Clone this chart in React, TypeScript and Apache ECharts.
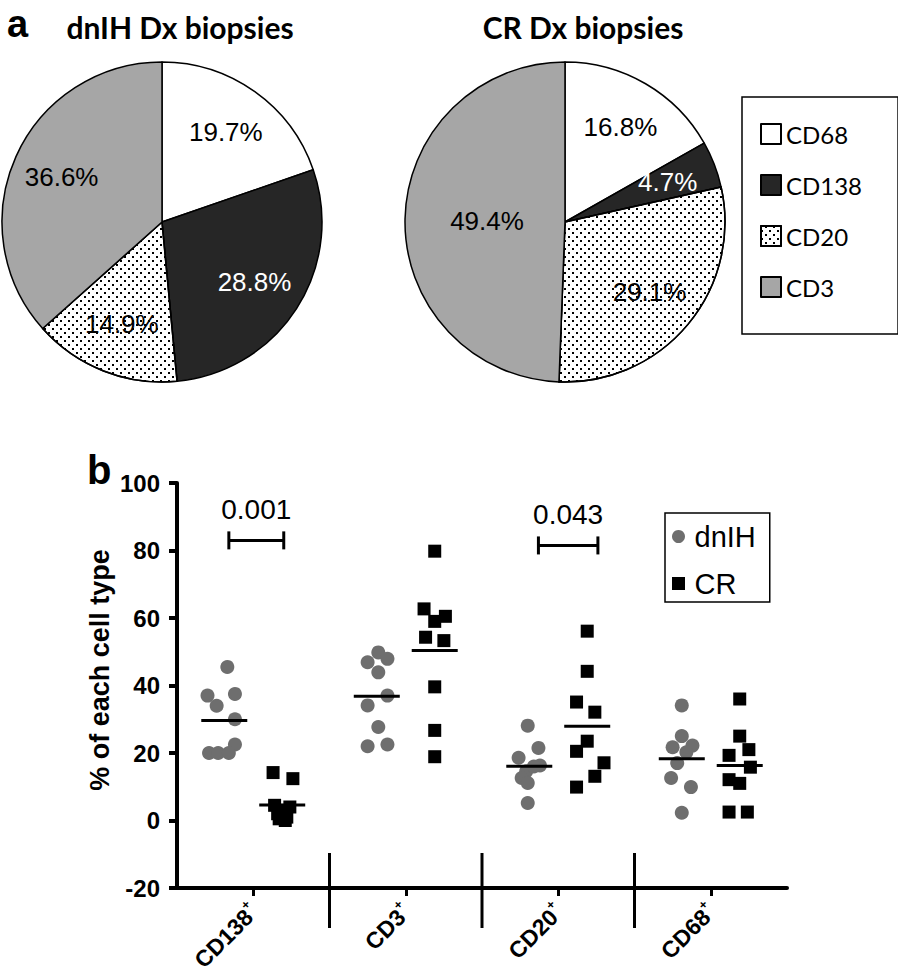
import React, { useEffect, useRef } from 'react';
import * as echarts from 'echarts';

// ---------- Panel a: pie charts ----------
const pieNames = ['CD68', 'CD138', 'CD20', 'CD3'];
const dnihPie = [19.7, 28.8, 14.9, 36.6];
const crPie = [16.8, 4.7, 29.1, 49.4];

// ---------- Panel b: scatter ----------
const cellTypes = ['CD138', 'CD3', 'CD20', 'CD68'];
const groups = ['dnIH', 'CR'];

const dnihCD138 = [45.5, 37, 37.5, 34, 30, 22.5, 20, 20, 20];
const dnihCD3 = [49.8, 46.9, 47.9, 43.9, 37, 34.1, 27.7, 22, 22.5];
const dnihCD20 = [28.1, 21.5, 18.6, 16.3, 14.6, 16, 12.6, 11.1, 5.2];
const dnihCD68 = [34.1, 25, 22.2, 21.7, 20.2, 17, 12.6, 9.9, 2.3];

const crCD138 = [14.2, 12.4, 4.5, 4, 3, 2, 1, 0.5, 0];
const crCD3 = [79.8, 62.7, 60.5, 59, 54.3, 53.3, 39.6, 26.7, 18.9];
const crCD20 = [56.1, 44.2, 35.1, 32.1, 23.5, 20.5, 17.1, 13.1, 9.9];
const crCD68 = [36, 25, 21, 19.3, 15.8, 12.1, 11, 2.5, 2.5];

// horizontal scatter (jitter) of each point, in category widths
const dnihJitter = [
  [0.02, -0.11, 0.07, -0.05, 0.07, 0.07, -0.1, -0.04, 0.03],
  [0.01, -0.06, 0.07, 0.01, 0.07, -0.06, 0.01, -0.06, 0.07],
  [-0.01, 0.06, -0.07, 0.07, -0.02, 0.03, -0.05, -0.01, -0.01],
  [0, 0, 0.07, -0.06, 0.03, -0.03, -0.07, 0.06, 0],
];
const crJitter = [
  [-0.06, 0.07, -0.05, 0.05, 0, -0.03, 0.03, -0.02, 0.02],
  [0, -0.07, 0.07, 0, -0.06, 0.06, 0, 0, 0],
  [0, 0, -0.07, 0.05, 0, -0.07, 0.11, 0.05, -0.07],
  [0, 0, 0.06, -0.07, 0.07, -0.07, 0, -0.07, 0.05],
];

const dnihMeans = [29.6, 36.8, 16.1, 18.3];
const crMeans = [4.6, 50.4, 27.9, 16.3];

const sigLabels = ['0.001', '0.043'];
const sigFrom = [0.34, 2.37];
const sigTo = [0.7, 2.76];
const sigLevel = [83, 81.5];

const separators = [1, 2, 3];

// ---------- styles ----------
const ARIAL = '"Liberation Sans", Arial, Helvetica, sans-serif';
const CAL = 'Lato, "Open Sans", sans-serif';
const GROUP_OFFSET = [-0.19, 0.19];

const dotDecal = {
  symbol: 'rect',
  symbolSize: 1,
  color: '#000',
  dashArrayX: [[1.6, 5.4], [0, 3.5, 1.6, 1.9]],
  dashArrayY: [1.6, 1.9],
};
const pieStyles = [
  { color: '#ffffff' },
  { color: '#262626' },
  { color: '#ffffff', decal: dotDecal },
  { color: '#a6a6a6' },
];
const labelColors = ['#000', '#fff', '#000', '#000'];

const catRich = {
  n: { fontSize: 23, fontWeight: 'bold', fontFamily: ARIAL, fill: '#000', color: '#000', lineHeight: 30 },
  s: { fontSize: 13, fontWeight: 'bold', fontFamily: ARIAL, fill: '#000', color: '#000', verticalAlign: 'top' },
};

function buildOption() {
  const dnihVals = [dnihCD138, dnihCD3, dnihCD20, dnihCD68];
  const crVals = [crCD138, crCD3, crCD20, crCD68];

  const pieSeries = (name: string, vals: number[], cx: number) => ({
    type: 'pie',
    name,
    center: [cx, 222],
    radius: 160,
    startAngle: 90,
    clockwise: true,
    silent: true,
    label: { show: false },
    labelLine: { show: false },
    itemStyle: { borderColor: '#000', borderWidth: 1.5 },
    data: pieNames.map((n, i) => ({ name: n, value: vals[i], itemStyle: pieStyles[i] })),
  });
  // transparent pie used only to place the percentage labels at a chosen radius
  const labelPie = (name: string, vals: number[], cx: number, r: number, shown: boolean[]) => ({
    type: 'pie',
    name,
    center: [cx, 222],
    radius: r,
    startAngle: 90,
    clockwise: true,
    silent: true,
    avoidLabelOverlap: false,
    itemStyle: { color: 'rgba(0,0,0,0)', borderWidth: 0 },
    labelLine: { show: false },
    label: {
      show: true,
      position: 'inside',
      formatter: '{c}%',
      fontSize: 26,
      fontFamily: ARIAL,
    },
    data: pieNames.map((n, i) => ({
      name: n,
      value: vals[i],
      label: { show: shown[i], color: labelColors[i] },
    })),
  });

  const scatterData = (vals: number[][], jit: number[][], g: number) =>
    vals.flatMap((arr, c) => arr.map((v, k) => [c + 0.5 + GROUP_OFFSET[g] + jit[c][k], v]));

  const meanData = cellTypes.flatMap((_, c) => [
    [c + 0.5 + GROUP_OFFSET[0], dnihMeans[c]],
    [c + 0.5 + GROUP_OFFSET[1], crMeans[c]],
  ]);

  const centers = cellTypes.map((_, i) => i + 0.5);

  return {
    animation: false,
    backgroundColor: '#fff',
    graphic: [
      { type: 'text', x: 7, y: 24, style: { text: 'a', font: `bold 38px ${ARIAL}`, lineHeight: 30, fill: '#000', verticalAlign: 'middle' } },
      { type: 'text', x: 87, y: 470, style: { text: 'b', font: `bold 40px ${ARIAL}`, fill: '#000', verticalAlign: 'middle' } },
      { type: 'text', x: 180, y: 27, style: { text: 'dnIH Dx biopsies', font: `bold 30px ${CAL}`, fill: '#000', align: 'center', verticalAlign: 'middle' } },
      { type: 'text', x: 583, y: 27, style: { text: 'CR Dx biopsies', font: `bold 30px ${CAL}`, fill: '#000', align: 'center', verticalAlign: 'middle' } },
      {
        type: 'text',
        x: 100,
        y: 670,
        rotation: Math.PI / 2,
        style: { text: '% of each cell type', font: `bold 27px ${ARIAL}`, fill: '#000', align: 'center', verticalAlign: 'middle' },
      },
    ],
    legend: [
      {
        data: pieNames,
        orient: 'vertical',
        left: 742,
        top: 97,
        icon: 'rect',
        itemWidth: 20,
        itemHeight: 20,
        itemGap: 27,
        padding: [25, 36, 35, 18],
        borderColor: '#000',
        borderWidth: 1.5,
        selectedMode: false,
        textStyle: { fontSize: 24, fontFamily: CAL, color: '#000', lineHeight: 20 },
      },
      {
        data: [
          { name: groups[0], icon: 'circle' },
          { name: groups[1], icon: 'path://M0,0H10V10H0Z' },
        ],
        orient: 'vertical',
        left: 665,
        top: 513,
        itemWidth: 22,
        itemHeight: 13,
        itemGap: 18,
        padding: [9, 14, 4, 7],
        borderColor: '#000',
        borderWidth: 1.5,
        selectedMode: false,
        textStyle: { fontSize: 29, fontFamily: ARIAL, color: '#000', lineHeight: 26 },
      },
    ],
    grid: { left: 177, top: 483, width: 610, height: 405, containLabel: false },
    xAxis: {
      type: 'value',
      min: 0,
      max: 4,
      splitLine: { show: false },
      axisLine: { onZero: false, lineStyle: { color: '#000', width: 4 } },
      axisTick: { show: true, customValues: centers, length: 8, lineStyle: { color: '#000', width: 3 } },
      axisLabel: { show: false },
    },
    yAxis: {
      type: 'value',
      min: -20,
      max: 100,
      interval: 20,
      splitLine: { show: false },
      axisLine: { show: true, lineStyle: { color: '#000', width: 4 } },
      axisTick: { show: true, length: 8, lineStyle: { color: '#000', width: 4 } },
      axisLabel: { fontSize: 24, fontWeight: 'bold', color: '#000', fontFamily: ARIAL, margin: 17 },
    },
    series: [
      pieSeries('dnIH Dx', dnihPie, 162),
      pieSeries('CR Dx', crPie, 565),
      labelPie('dnIH Dx labels', dnihPie, 162, 214, [true, true, true, true]),
      labelPie('CR Dx labels', crPie, 565, 214, [true, true, true, false]),
      labelPie('CR Dx labels inner', crPie, 565, 150, [false, false, false, true]),
      {
        type: 'scatter',
        name: 'dnIH',
        symbol: 'circle',
        symbolSize: 14,
        itemStyle: { color: '#6e6e6e', opacity: 1 },
        data: scatterData(dnihVals, dnihJitter, 0),
        silent: true,
      },
      {
        type: 'scatter',
        name: 'CR',
        symbol: 'rect',
        symbolSize: 13,
        itemStyle: { color: '#000', opacity: 1 },
        data: scatterData(crVals, crJitter, 1),
        silent: true,
      },
      {
        type: 'scatter',
        name: 'mean',
        symbol: 'rect',
        symbolSize: [46, 3],
        itemStyle: { color: '#000', opacity: 1 },
        data: meanData,
        silent: true,
        z: 5,
      },
      {
        type: 'custom',
        name: 'separators',
        clip: false,
        silent: true,
        encode: { x: 0, y: 1 },
        data: separators.map((s) => [s, -20]),
        renderItem: (params: any, api: any) => {
          const p = api.coord([api.value(0), api.value(1)]);
          return {
            type: 'line',
            shape: { x1: p[0], y1: p[1] - 35, x2: p[0], y2: p[1] + 40 },
            style: { stroke: '#000', lineWidth: 3 },
          };
        },
      },
      {
        type: 'custom',
        name: 'category labels',
        clip: false,
        silent: true,
        encode: { x: 0, y: 1 },
        data: centers.map((c) => [c, -20]),
        renderItem: (params: any, api: any) => {
          const p = api.coord([api.value(0), api.value(1)]);
          return {
            type: 'text',
            x: p[0] + 1,
            y: p[1] + 20,
            rotation: Math.PI / 4,
            style: {
              text: `{n|${cellTypes[params.dataIndex]}}{s|+}`,
              rich: catRich,
              align: 'right',
              verticalAlign: 'middle',
              fill: '#000',
            },
          };
        },
      },
      {
        type: 'custom',
        name: 'significance',
        clip: false,
        silent: true,
        dimensions: ['from', 'to', 'level'],
        encode: { x: [0, 1], y: 2 },
        data: sigLabels.map((_, i) => [sigFrom[i], sigTo[i], sigLevel[i]]),
        renderItem: (params: any, api: any) => {
          const a = api.coord([api.value(0), api.value(2)]);
          const b = api.coord([api.value(1), api.value(2)]);
          const s = { stroke: '#000', lineWidth: 3 };
          return {
            type: 'group',
            children: [
              { type: 'line', shape: { x1: a[0], y1: a[1], x2: b[0], y2: b[1] }, style: s },
              { type: 'line', shape: { x1: a[0], y1: a[1] - 9, x2: a[0], y2: a[1] + 9 }, style: s },
              { type: 'line', shape: { x1: b[0], y1: b[1] - 9, x2: b[0], y2: b[1] + 9 }, style: s },
              {
                type: 'text',
                style: {
                  text: sigLabels[params.dataIndex],
                  x: (a[0] + b[0]) / 2,
                  y: a[1] - 31,
                  align: 'center',
                  verticalAlign: 'middle',
                  fill: '#000',
                  font: `28px ${ARIAL}`,
                },
              },
            ],
          };
        },
      },
    ],
  };
}

export default function App() {
  const ref = useRef<HTMLDivElement>(null);
  useEffect(() => {
    if (!ref.current) return;
    const chart = echarts.init(ref.current, null, { renderer: 'svg' });
    chart.setOption(buildOption() as any);
    return () => chart.dispose();
  }, []);
  return (
    <div
      ref={ref}
      style={{ position: 'absolute', left: 0, top: 0, width: 898, height: 974, background: '#fff' }}
    />
  );
}
